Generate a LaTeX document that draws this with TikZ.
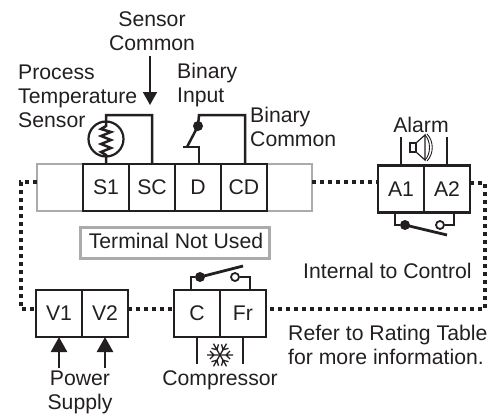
\documentclass[tikz,border=0pt]{standalone}
\usepackage{fontspec}
\setmainfont{Liberation Sans}
\usetikzlibrary{positioning,arrows.meta}
\definecolor{ink}{HTML}{231F20}
\definecolor{strip}{HTML}{ABABAB}
\tikzset{
  term/.style={draw=ink, line width=2.7pt, minimum width=46pt, minimum height=47pt, inner sep=0pt, outer sep=0pt, text=ink},
  wire/.style={draw=ink, line width=2.5pt},
  thin wire/.style={draw=ink, line width=1.8pt},
  dots/.style={draw=ink, line width=4pt, dash pattern=on 4pt off 4pt},
  lbl/.style={inner sep=0pt, text=ink, align=left},
  lblc/.style={lbl, align=center},
  feed/.style={draw=ink, line width=2.5pt, -{Triangle[length=15pt,width=16pt]}},
  spot/.style={circle, fill=ink, minimum size=10pt, inner sep=0pt},
  open/.style={circle, draw=ink, fill=white, line width=1.8pt, minimum size=8pt, inner sep=0pt},
}
\begin{document}
\begin{tikzpicture}[x=1pt, y=-1pt, every node/.append style={font=\fontsize{21.2}{24}\selectfont}]
    \useasboundingbox (0,0) rectangle (491,415);

    % terminal strip
    \node[draw=strip, line width=2.7pt, minimum width=275pt, minimum height=47pt, outer sep=0pt] (strip) at (174.5,187.5) {};
    \node[term] (s1) at (106,187.5) {S1};
    \node[term, right=0pt of s1] (sc) {SC};
    \node[term, right=0pt of sc] (d) {D};
    \node[term, right=0pt of d] (cd) {CD};
    \node[draw=strip, line width=3pt, minimum width=189pt, minimum height=31pt, outer sep=0pt, inner sep=0pt] (unused) at (174.5,242.5) {};
    \node[lblc] (lunused) at (176,240.5) {Terminal Not Used};

    % outputs and supply
    \node[term] (a1) at (401,189) {A1};
    \node[term, right=0pt of a1] (a2) {A2};
    \node[term] (v1) at (59,313.5) {V1};
    \node[term, right=0pt of v1] (v2) {V2};
    \node[term] (c) at (197,313.5) {C};
    \node[term, right=0pt of c] (fr) {Fr};

    % labels
    \node[lblc] (lcommon) at (152,31) {Sensor\\Common};
    \node[lbl, anchor=west] (lsensor) at (18,96) {Process\\Temperature\\Sensor};
    \node[lbl, anchor=west] (linput) at (177,85) {Binary\\Input};
    \node[lbl, anchor=west] (lbincom) at (250,127) {Binary\\Common};
    \node[lblc] (lalarm) at (421,125) {Alarm};
    \node[lbl, anchor=west] (linternal) at (303,271) {Internal to Control};
    \node[lbl, anchor=west] (lrefer) at (288,345) {Refer to Rating Table\\for more information.};
    \node[lblc] (lpower) at (80,392) {Power\\Supply};
    \node[lblc] (lcomp) at (220,380) {Compressor};

    % dotted loop
    \coordinate (ltop) at (21,182);
    \coordinate (lbot) at (21,309);
    \coordinate (rtop) at (485,183);
    \coordinate (rbot) at (485,309);
    \draw[dots] (strip.west |- ltop) -- (ltop) -- (lbot) -- (lbot -| v1.west);
    \draw[dots] (v2.east |- lbot) -- (lbot -| c.west);
    \draw[dots] (strip.east |- ltop) -- (ltop -| a1.west);
    \draw[dots] (a2.east |- rtop) -- (rtop) -- (rbot) -- (rbot -| fr.east);

    % sensor
    \coordinate (stop) at (106,115);
    \node[circle, draw=ink, line width=2.2pt, minimum size=35pt, inner sep=0pt] (rtd) at (106,139) {};
    \draw[wire] (s1.north) -- (106,155) -- (101,152) -- (111,148) -- (101,144) -- (111,140) -- (101,136) -- (111,132) -- (101,129) -- (106,126) -- (stop) -| (sc.north);
    \coordinate (arrowtop) at (150,56);
    \coordinate (arrowend) at (150,105);
    \draw[draw=ink, line width=1.5pt, -{Triangle[length=13pt,width=14pt]}] (arrowtop) -- (arrowend);

    % binary input
    \coordinate (dpin) at (199,164);
    \coordinate (cdpin) at (245,164);
    \coordinate (dtop) at (199,115);
    \node[spot] (bdot) at (198,126) {};
    \draw[wire] (dpin) -- (199,147) -- (183,147);
    \draw[wire] (187,147) -- (bdot.center) -- (dtop) -| (cdpin);

    % alarm
    \draw[wire] (a1.north) -- ++(0,-29);
    \draw[wire] (a2.north) -- ++(0,-29);
    \draw[draw=ink, line width=1.2pt] (410,143) rectangle (416,152);
    \draw[draw=ink, line width=1.2pt] (416,143) -- (425,135) -- (425,160) -- (416,152);
    \draw[draw=ink, line width=0.9pt] (425,135) .. controls (431,141) and (431,154) .. (425,160);
    \draw[draw=ink, line width=0.9pt] (427,134) .. controls (434,141) and (434,154) .. (427,161);
    \node[spot] (adot) at (405,225) {};
    \node[open] (aopen) at (440,225) {};
    \draw[thin wire] (395,212) |- (adot);
    \draw[thin wire] (454,212) |- (aopen);
    \draw[draw=ink, line width=2.8pt] (adot.center) -- (447,235);

    % compressor
    \draw[wire] (c.south) -- ++(0,27);
    \draw[wire] (fr.south) -- ++(0,27);
    \node[spot] (cdot) at (200,277) {};
    \node[open] (copen) at (235,277) {};
    \draw[thin wire] (191,290) |- (cdot);
    \draw[thin wire] (250,290) |- (copen);
    \draw[draw=ink, line width=2.8pt] (cdot.center) -- (243,266);
    \foreach \ang in {0,60,...,300} {
      \draw[draw=ink, line width=1.3pt, shift={(220,355)}, rotate=\ang] (0,0) -- (13,0) (10,-4) -- (6,0) -- (10,4);
    }

    % supply arrows
    \draw[feed] (59,368) -- (v1.south);
    \draw[feed] (105,368) -- (v2.south);
\end{tikzpicture}
\end{document}
